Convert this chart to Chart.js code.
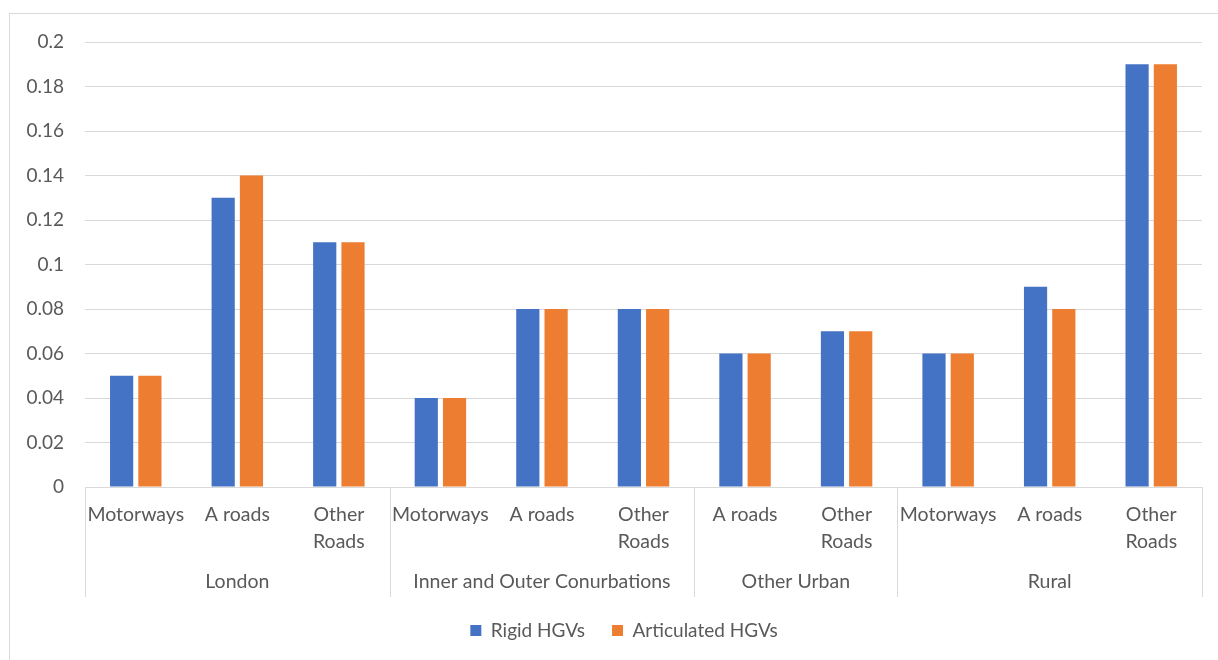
<!DOCTYPE html>
<html>
<head>
<meta charset="utf-8">
<script src="https://cdn.jsdelivr.net/npm/chart.js@4"></script>
<style>
   html, body { margin: 0; padding: 0; background: #fff; }
   #wrap { width: 1218px; height: 660px; position: relative; }
</style>
</head>
<body>
<div id="wrap"><canvas id="graphique"></canvas></div>
<script>
// sub-categories along the x axis
const roads = ['Motorways', 'A roads', ['Other', 'Roads'],
               'Motorways', 'A roads', ['Other', 'Roads'],
               'A roads', ['Other', 'Roads'],
               'Motorways', 'A roads', ['Other', 'Roads']];
// outer level of the axis and how many roads each one holds
const areas = ['London', 'Inner and Outer Conurbations', 'Other Urban', 'Rural'];
const areaSizes = [3, 3, 2, 3];

const rigid = [0.05, 0.13, 0.11, 0.04, 0.08, 0.08, 0.06, 0.07, 0.06, 0.09, 0.19];
const articulated = [0.05, 0.14, 0.11, 0.04, 0.08, 0.08, 0.06, 0.07, 0.06, 0.08, 0.19];

const yMin = 0, yMax = 0.2, yStep = 0.02;

const TEXT = '#595959';
const LINE = '#d9d9d9';
const FONT = 'Lato, "Open Sans", sans-serif';

// outer frame + second level of the category axis
const groupAxis = {
   id: 'groupAxis',
   afterLayout(chart) {
      // y labels sit in the left padding, don't let the scale clip them
      chart.scales.y.left = 0;
   },
   beforeDraw(chart) {
      const c = chart.ctx;
      c.save();
      c.fillStyle = '#fff';
      c.fillRect(0, 0, chart.width, chart.height);
      c.strokeStyle = LINE;
      c.lineWidth = 1;
      c.strokeRect(9.5, 13.5, chart.width + 20, chart.height + 20);
      c.restore();
   },
   afterDraw(chart) {
      const c = chart.ctx;
      const x = chart.scales.x;
      const area = chart.chartArea;
      const catW = (area.right - area.left) / roads.length;
      c.save();
      c.strokeStyle = LINE;
      c.lineWidth = 1;
      c.fillStyle = TEXT;
      c.font = '19.5px ' + FONT;
      c.textAlign = 'center';
      c.textBaseline = 'middle';
      let start = 0;
      const edge = (i) => Math.round(area.left + i * catW) + 0.5;
      c.beginPath();
      c.moveTo(edge(0), area.bottom);
      c.lineTo(edge(0), 597);
      areaSizes.forEach((n, g) => {
         const end = start + n;
         c.moveTo(edge(end), area.bottom);
         c.lineTo(edge(end), 597);
         const mid = (x.getPixelForValue(start) + x.getPixelForValue(end - 1)) / 2;
         c.fillText(areas[g], mid, 582);
         start = end;
      });
      c.stroke();
      c.restore();
   }
};

new Chart(document.getElementById('graphique'), {
   type: 'bar',
   data: {
      labels: roads,
      datasets: [{
         label: 'Rigid HGVs',
         data: rigid,
         backgroundColor: '#4472C4'
      }, {
         label: 'Articulated HGVs',
         data: articulated,
         backgroundColor: '#ED7D31'
      }]
   },
   options: {
      responsive: true,
      maintainAspectRatio: false,
      animation: false,
      categoryPercentage: 0.557,
      barPercentage: 0.82,
      layout: {
         // left padding pushes the legend to the right like the original
         padding: { left: 46, top: 42, right: 16, bottom: 10 }
      },
      scales: {
         x: {
            grid: { display: false, drawTicks: false },
            border: { display: true, color: LINE },
            ticks: {
               color: TEXT,
               font: { family: FONT, size: 19.5, lineHeight: 1.35 },
               padding: 15,
               maxRotation: 0,
               autoSkip: false
            },
            afterFit(scale) { scale.height = 107; }
         },
         y: {
            min: yMin,
            max: yMax,
            grid: { color: LINE, drawTicks: false },
            border: { display: false },
            ticks: {
               stepSize: yStep,
               color: TEXT,
               font: { family: FONT, size: 19 },
               padding: 21,
               callback: v => String(+v.toFixed(2))
            },
            afterFit(scale) { scale.width = 39; }
         }
      },
      plugins: {
         legend: {
            position: 'bottom',
            labels: {
               boxWidth: 11,
               boxHeight: 11,
               padding: 27,
               color: TEXT,
               font: { family: FONT, size: 19 }
            }
         },
         tooltip: { enabled: false }
      }
   },
   plugins: [groupAxis]
});
</script>
</body>
</html>
